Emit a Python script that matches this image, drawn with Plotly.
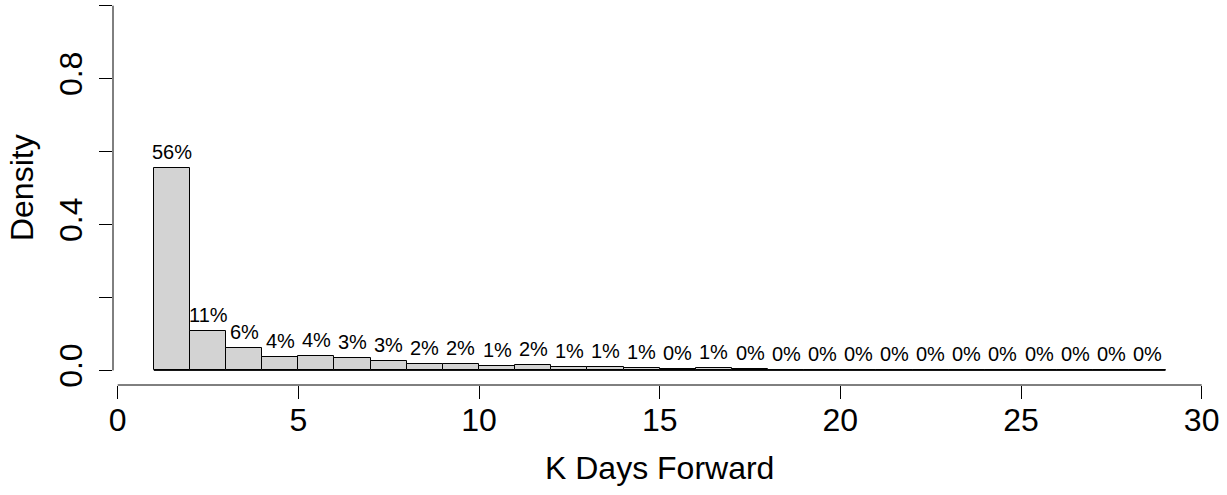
import plotly.graph_objects as go

# Histogram of K days forward: bin edges and density per bin
bin_edges = list(range(1, 30))
density = [0.555, 0.109, 0.062, 0.036, 0.039, 0.033, 0.026, 0.018, 0.017,
           0.012, 0.016, 0.010, 0.008, 0.006, 0.004, 0.006, 0.003, 0.002,
           0.002, 0.002, 0.002, 0.001, 0.001, 0.001, 0.000, 0.000, 0.000,
           0.000]
x_ticks = [0, 5, 10, 15, 20, 25, 30]
y_ticks = [0.0, 0.2, 0.4, 0.6, 0.8, 1.0]
y_tick_text = ["0.0", "", "0.4", "", "0.8", ""]

FONT = "Liberation Sans, Arial, Helvetica, sans-serif"

centers = [(a + b) / 2 for a, b in zip(bin_edges[:-1], bin_edges[1:])]
widths = [b - a for a, b in zip(bin_edges[:-1], bin_edges[1:])]
labels = [f"{round(v * 100)}%" for v in density]

fig = go.Figure()

fig.add_trace(go.Bar(
    x=centers, y=density, width=widths,
    marker=dict(color="#d3d3d3", line=dict(color="black", width=1)),
    hoverinfo="skip", showlegend=False,
))

# bottom edges of all bins (visible where a bin has zero height)
fig.add_trace(go.Scatter(
    x=[bin_edges[0], bin_edges[-1]], y=[0, 0], mode="lines",
    line=dict(color="black", width=1), hoverinfo="skip", showlegend=False,
))

for c, v, t in zip(centers, density, labels):
    fig.add_annotation(x=c, y=v, text=t, showarrow=False, yanchor="bottom",
                       yshift=3, font=dict(family=FONT, size=20, color="black"))

# axis lines spanning only the tick range
fig.add_shape(type="line", xref="x", yref="paper", x0=x_ticks[0], x1=x_ticks[-1],
              y0=0, y1=0, line=dict(color="black", width=1))
fig.add_shape(type="line", xref="paper", yref="y", x0=0, x1=0,
              y0=y_ticks[0], y1=y_ticks[-1], line=dict(color="black", width=1))

fig.add_annotation(xref="paper", yref="paper", x=0.5, y=0, yanchor="top",
                   yshift=-63, text="K Days Forward", showarrow=False,
                   font=dict(family=FONT, size=32, color="black"))
fig.add_annotation(xref="paper", yref="y", x=0, y=0.5, xanchor="center",
                   yanchor="middle", xshift=-91, textangle=-90, text="Density",
                   showarrow=False, font=dict(family=FONT, size=32, color="black"))

fig.update_layout(
    width=1227, height=495,
    margin=dict(l=113, r=21, t=0, b=110),
    plot_bgcolor="white", paper_bgcolor="white",
    bargap=0,
    font=dict(family=FONT, size=32, color="black"),
    xaxis=dict(range=[-0.13, 30.12], tickvals=x_ticks, ticks="outside",
               ticklen=13, tickwidth=1, tickcolor="black", showgrid=False,
               zeroline=False, showline=False, fixedrange=True,
               ticklabelstandoff=-6,
               tickfont=dict(family=FONT, size=32, color="black")),
    yaxis=dict(range=[-0.040, 1.0156], tickvals=y_ticks, ticktext=y_tick_text,
               ticks="outside", ticklen=13, tickwidth=1, tickcolor="black",
               tickangle=-90, showgrid=False, zeroline=False, showline=False,
               fixedrange=True, ticklabelstandoff=4,
               tickfont=dict(family=FONT, size=32, color="black")),
)

fig.write_html("out.html")
